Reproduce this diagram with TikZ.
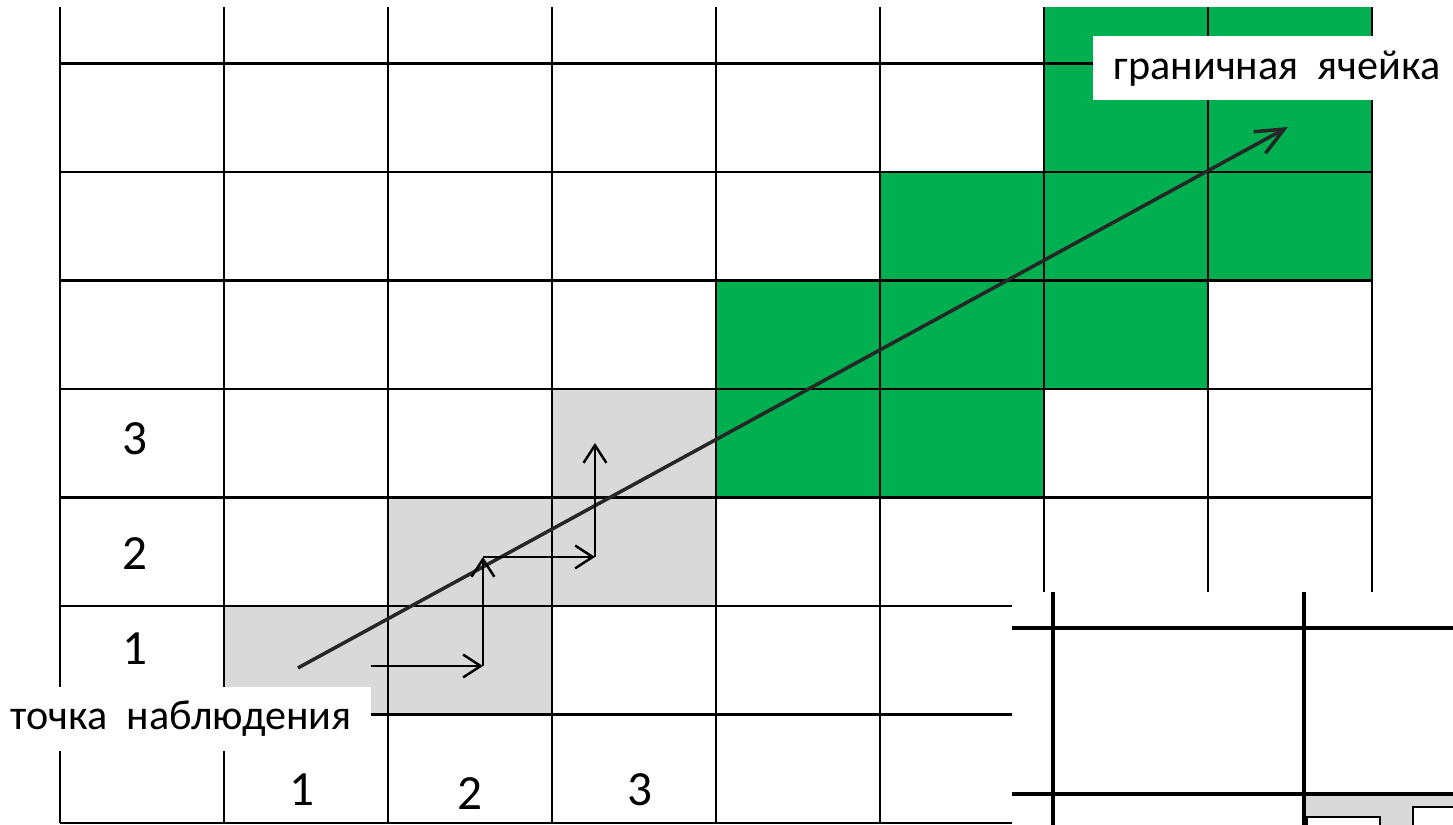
\documentclass[tikz,border=0pt]{standalone}
\usepackage{fontspec}
\setmainfont{Carlito}
\usepackage{tikz}
\usetikzlibrary{arrows.meta, positioning}
\definecolor{cellgreen}{RGB}{0,176,80}
\definecolor{cellgrey}{RGB}{217,217,217}
\definecolor{raydark}{RGB}{38,38,38}
\tikzset{
  gridline/.style={line width=0.6pt, color=black},
  greencell/.style={fill=cellgreen},
  greycell/.style={fill=cellgrey},
  rayarrow/.style={-{Straight Barb[length=8pt, width=7pt]}, line width=1pt, color=raydark},
  stepline/.style={-{Straight Barb[length=5pt, width=6.5pt]}, line width=0.7pt, color=black},
  labelbox/.style={fill=white, inner ysep=0pt, minimum height=0.64cm,
    font=\fontsize{12pt}{14pt}\selectfont},
  numlabel/.style={inner sep=0pt, font=\fontsize{14pt}{16pt}\selectfont},
  insetline/.style={line width=1pt, color=black}
}

\begin{document}
\begin{tikzpicture}[x=1.64cm, y=1.085cm]
  \useasboundingbox (-0.3659,-0.0184) rectangle (8.4939,7.5853);

  % Grey cells along the path
  \foreach \c/\r in {1/1, 2/1, 2/2, 3/2, 3/3}
    \fill[greycell] (\c,\r) rectangle ++(1,1);

  % Green cells
  \foreach \c/\r in {4/3, 5/3, 4/4, 5/4, 6/4, 5/5, 6/5, 7/5, 6/6, 7/6}
    \fill[greencell] (\c,\r) rectangle ++(1,1);
  \fill[greencell] (6,7) rectangle (8,7.52);

  % Grid
  \foreach \i in {0,...,8}
    \draw[gridline] (\i,0) -- (\i,7.52);
  \foreach \j in {0,...,7}
    \draw[gridline] (0,\j) -- (8,\j);

  % Row and column numbers
  \node[numlabel] (r1) at (0.46,1.604) {1};
  \node[numlabel] (r2) at (0.46,2.488) {2};
  \node[numlabel] (r3) at (0.46,3.544) {3};
  \node[numlabel] (c1) at (1.476,0.304) {1};
  \node[numlabel] (c2) at (2.5,0.267) {2};
  \node[numlabel] (c3) at (3.537,0.304) {3};

  % Ray from the observation point
  \coordinate (obs) at (1.451,1.429);
  \coordinate (bcell) at (7.488,6.415);
  \draw[rayarrow] (obs) -- (bcell);

  % Stepwise walk over the cells
  \coordinate (s0) at (1.896,1.447);
  \coordinate (s1) at (2.579,1.447);
  \coordinate (s2) at (2.579,2.452);
  \coordinate (s3) at (3.262,2.452);
  \coordinate (s4) at (3.262,3.502);
  \draw[stepline] (s0) -- (s1);
  \draw[stepline] (s1) -- (s2);
  \draw[stepline] (s2) -- (s3);
  \draw[stepline] (s3) -- (s4);

  % Labels
  \node[labelbox, anchor=west, inner xsep=0.21cm] (bndlabel) at (6.293,6.954) {граничная\ \ ячейка};
  \node[labelbox, anchor=west, inner xsep=0.1cm] (obslabel) at (-0.3659,0.9585) {\makebox[3.5cm][l]{точка\ \ наблюдения}};

  % Inset (enlarged cell)
  \fill[white] (5.805,-0.0184) rectangle (8.4939,2.129);
  \fill[greycell] (7.585,-0.0184) rectangle (8.4939,0.267);
  \draw[line width=0.6pt, fill=white] (7.604,-0.2) rectangle (8.049,0.055);
  \draw[line width=0.6pt, fill=white] (8.25,-0.2) rectangle (8.7,0.147);
  \draw[insetline] (6.055,-0.0184) -- (6.055,2.129);
  \draw[insetline] (7.585,-0.0184) -- (7.585,2.129);
  \draw[insetline] (5.805,1.797) -- (8.4939,1.797);
  \draw[insetline] (5.805,0.267) -- (8.4939,0.267);
\end{tikzpicture}
\end{document}
